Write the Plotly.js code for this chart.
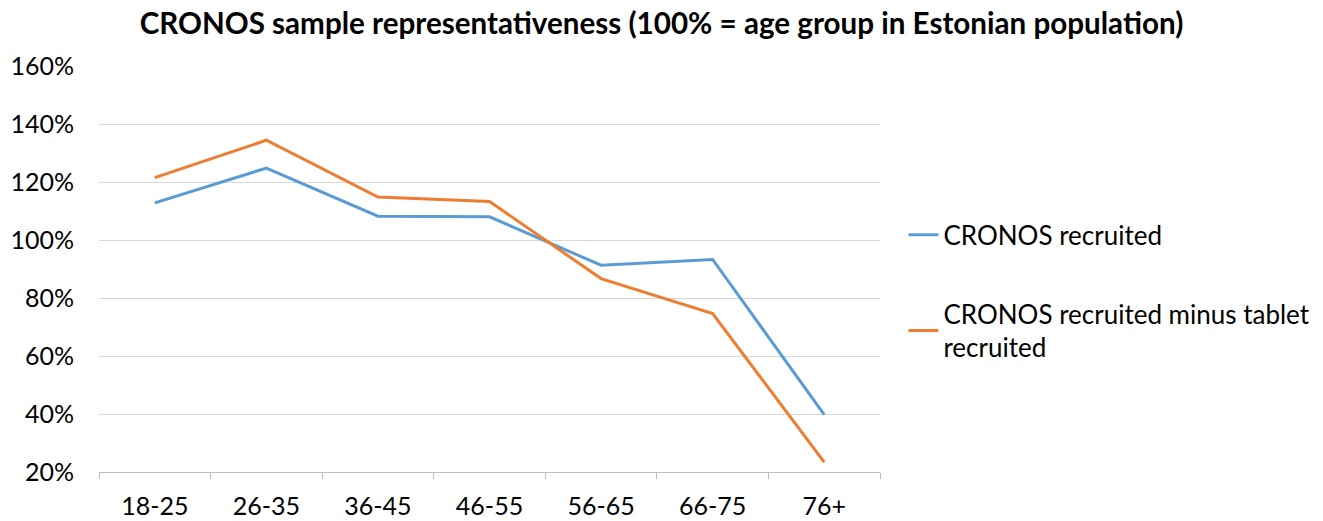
<!DOCTYPE html>
<html>
<head>
<meta charset="utf-8">
<script src="https://cdn.plot.ly/plotly-3.0.1.min.js"></script>
<style>html,body{margin:0;padding:0;background:#fff;}#chart{width:1323px;height:521px;}</style>
</head>
<body>
<div id="chart"></div>
<script>
var categories = ["18-25", "26-35", "36-45", "46-55", "56-65", "66-75", "76+"];
var recruited = [112.8, 124.8, 108.2, 108.0, 91.3, 93.3, 39.8];
var minusTablet = [121.5, 134.4, 114.8, 113.3, 86.7, 74.6, 23.4];
var yTicks = [20, 40, 60, 80, 100, 120, 140, 160];
var yTickLabels = yTicks.map(function (v) { return v + "%"; });
var seriesNames = ["CRONOS recruited", "CRONOS recruited minus tablet<br>recruited"];

var font = "Lato, 'Open Sans', sans-serif";
var traces = [
  {x: categories, y: recruited, name: seriesNames[0], type: "scatter", mode: "lines",
   line: {color: "#5b9bd5", width: 3}, legendgroup: "a"},
  {x: categories, y: minusTablet, name: seriesNames[1], type: "scatter", mode: "lines",
   line: {color: "#ed7d31", width: 3}, legendgroup: "b"}
];
var layout = {
  width: 1323, height: 521,
  margin: {l: 99, r: 443, t: 66, b: 49, autoexpand: false},
  paper_bgcolor: "#fff", plot_bgcolor: "#fff",
  font: {family: font, color: "#000", size: 25},
  title: {text: "<b>CRONOS sample representativeness (100% = age group in Estonian population)</b>",
          x: 0.5, xref: "container", xanchor: "center", y: 0.955, yanchor: "middle",
          font: {size: 29.6, family: font}},
  xaxis: {type: "category", range: [-0.5, 6.5], showgrid: false, showline: true,
          linecolor: "#bfbfbf", linewidth: 1,
          ticks: "outside", tickson: "boundaries", ticklen: 6, tickcolor: "#bfbfbf",
          tickfont: {size: 25}, zeroline: false, fixedrange: true, ticklabelstandoff: 12},
  yaxis: {range: [20, 160], tickvals: yTicks, ticktext: yTickLabels, showgrid: true,
          gridcolor: "#d9d9d9", gridwidth: 1, showline: false, zeroline: false, ticks: "",
          tickfont: {size: 25}, ticklabelstandoff: 24},
  showlegend: true,
  legend: {x: 1.03, xanchor: "left", y: 0.445, yanchor: "middle", traceorder: "grouped",
           tracegroupgap: 42, font: {size: 26}, itemwidth: 30, bgcolor: "rgba(0,0,0,0)"}
};
Plotly.newPlot("chart", traces, layout, {displayModeBar: false, staticPlot: true});
</script>
</body>
</html>
